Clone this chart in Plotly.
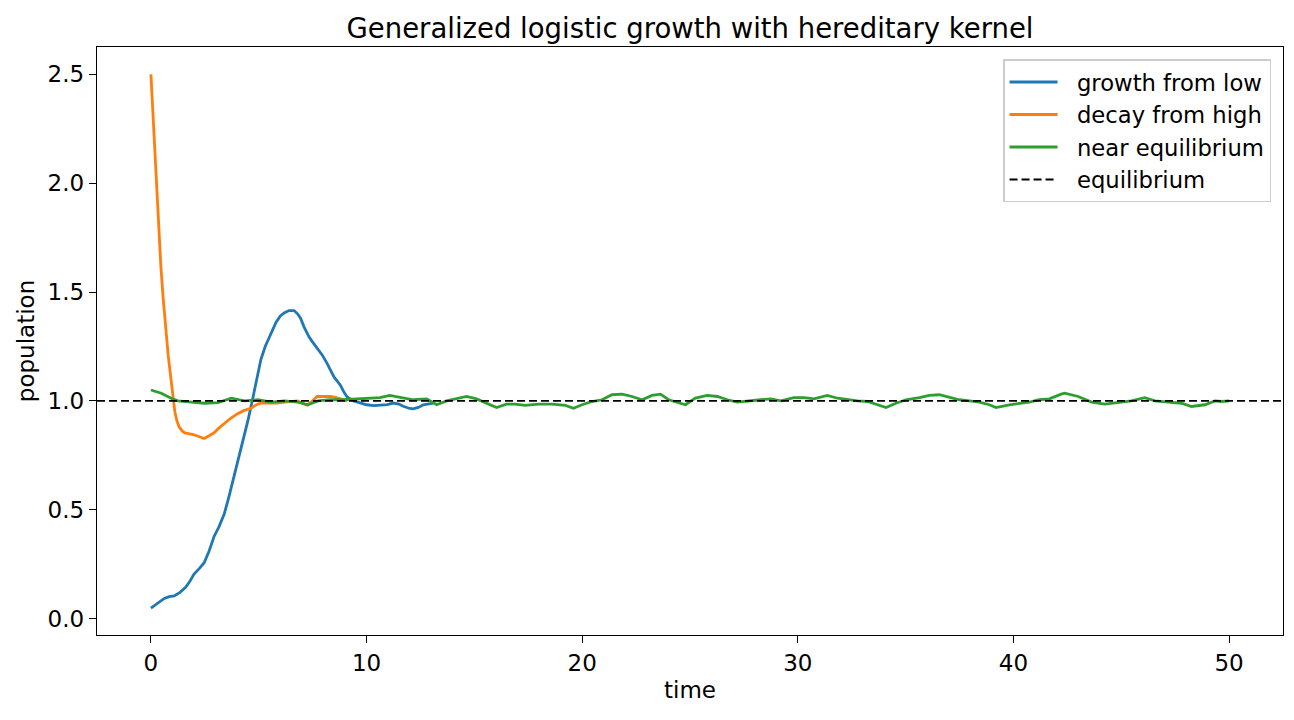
import plotly.graph_objects as go

# values
blue_t = [0, 0.3, 0.62, 0.85, 1.08, 1.35, 1.62, 1.8, 2.0, 2.25, 2.47, 2.7, 2.93, 3.15,
          3.4, 3.62, 3.86, 4.1, 4.32, 4.5, 4.7, 4.9, 5.1, 5.3, 5.56, 5.8, 6.0, 6.2,
          6.4, 6.64, 6.8, 6.94, 7.1, 7.33, 7.5, 7.72, 7.95, 8.18, 8.35, 8.49, 8.65,
          8.8, 8.95, 9.1, 9.4, 9.72, 10.0, 10.34, 10.62, 10.96, 11.24, 11.5, 11.7,
          12.0, 12.17, 12.4, 12.63, 12.96, 13.1]
blue_y = [0.048, 0.07, 0.092, 0.10, 0.104, 0.12, 0.144, 0.17, 0.204, 0.23, 0.256, 0.31,
          0.377, 0.42, 0.48, 0.56, 0.654, 0.74, 0.827, 0.91, 1.0, 1.10, 1.19, 1.25,
          1.31, 1.36, 1.39, 1.405, 1.415, 1.415, 1.40, 1.38, 1.34, 1.294, 1.27, 1.24,
          1.21, 1.17, 1.14, 1.11, 1.09, 1.07, 1.04, 1.018, 1.0, 0.99, 0.982, 0.978,
          0.98, 0.983, 0.99, 0.985, 0.975, 0.965, 0.963, 0.97, 0.982, 0.99, 0.99]

orange_t = [0, 0.08, 0.15, 0.22, 0.28, 0.37, 0.46, 0.57, 0.69, 0.8, 0.93, 1.02, 1.11,
            1.2, 1.31, 1.45, 1.57, 1.8, 2.0, 2.25, 2.47, 2.7, 2.93, 3.15, 3.4, 3.7,
            4.0, 4.3, 4.63, 4.85, 5.1, 5.5, 5.86, 6.3, 6.8, 7.0, 7.25, 7.5, 7.7, 8.0,
            8.33, 8.6, 8.8, 9.1]
orange_y = [2.5, 2.34, 2.19, 2.05, 1.93, 1.77, 1.62, 1.47, 1.33, 1.21, 1.10, 1.02, 0.95,
            0.91, 0.88, 0.862, 0.853, 0.848, 0.844, 0.835, 0.827, 0.84, 0.853, 0.875,
            0.896, 0.92, 0.94, 0.955, 0.965, 0.98, 0.99, 0.99, 0.99, 0.995, 1.0, 0.99,
            0.98, 1.0, 1.02, 1.02, 1.02, 1.015, 1.01, 1.0]

green_t = [0, 0.48, 0.94, 1.25, 1.87, 2.49, 3.11, 3.73, 4.34, 4.96, 5.58, 6.2, 6.82,
           7.28, 7.75, 8.3, 8.92, 9.54, 10.16, 10.62, 11.08, 11.55, 12.17, 12.79,
           13.25, 13.71, 14.33, 14.64, 15.1, 15.57, 16.03, 16.49, 16.88, 17.36, 17.98,
           18.6, 19.22, 19.6, 19.99, 20.45, 20.92, 21.38, 21.85, 22.31, 22.78, 23.24,
           23.63, 24.01, 24.48, 24.79, 25.25, 25.8, 26.27, 26.73, 27.19, 27.66, 28.28,
           28.74, 29.21, 29.82, 30.29, 30.75, 31.37, 31.84, 32.3, 32.76, 33.23, 33.7,
           34.09, 34.55, 35.02, 35.64, 36.1, 36.56, 37.03, 37.49, 37.96, 38.42, 38.88,
           39.19, 39.81, 40.27, 40.74, 41.2, 41.67, 42.21, 42.38, 43.0, 43.62, 44.24,
           44.85, 45.47, 46.09, 46.56, 47.18, 47.79, 48.26, 48.88, 49.34, 49.65, 50.0]
green_y = [1.05, 1.035, 1.012, 1.0, 0.994, 0.989, 0.992, 1.012, 1.0, 1.005, 0.994, 1.0,
           0.994, 0.982, 1.0, 1.006, 1.005, 1.009, 1.012, 1.015, 1.025, 1.015, 1.005,
           1.009, 0.982, 1.0, 1.012, 1.02, 1.009, 0.989, 0.969, 0.985, 0.985, 0.979,
           0.985, 0.985, 0.979, 0.966, 0.982, 0.997, 1.005, 1.028, 1.031, 1.02, 1.005,
           1.025, 1.031, 1.005, 0.989, 0.982, 1.013, 1.025, 1.02, 1.005, 0.994, 1.0,
           1.005, 1.009, 1.0, 1.015, 1.015, 1.009, 1.025, 1.012, 1.005, 1.0, 0.997,
           0.982, 0.969, 0.989, 1.005, 1.015, 1.025, 1.028, 1.015, 1.005, 1.0, 0.994,
           0.982, 0.969, 0.982, 0.989, 0.994, 1.005, 1.009, 1.031, 1.035, 1.02, 0.994,
           0.985, 0.994, 1.0, 1.015, 1.0, 0.994, 0.989, 0.974, 0.982, 1.0, 0.997, 1.0]

equilibrium = 1.0
x_range = [-2.5, 52.5]
y_range = [-0.076, 2.626]
x_ticks = [0, 10, 20, 30, 40, 50]
y_ticks = [0.0, 0.5, 1.0, 1.5, 2.0, 2.5]

font = "DejaVu Sans"
pad = "\u00a0\u00a0"  # gap between legend line sample and label

fig = go.Figure()
fig.add_trace(go.Scatter(x=blue_t, y=blue_y, mode="lines", name=pad + "growth from low",
                         legendgroup="a", line=dict(color="#1f77b4", width=2.8)))
fig.add_trace(go.Scatter(x=orange_t, y=orange_y, mode="lines", name=pad + "decay from high",
                         legendgroup="b", line=dict(color="#ff7f0e", width=2.8)))
fig.add_trace(go.Scatter(x=green_t, y=green_y, mode="lines", name=pad + "near equilibrium",
                         legendgroup="c", line=dict(color="#2ca02c", width=2.8)))
fig.add_trace(go.Scatter(x=x_range, y=[equilibrium, equilibrium], mode="lines",
                         name=pad + "equilibrium", legendgroup="d",
                         line=dict(color="black", width=1.9, dash="8px,4px")))

axis_style = dict(showline=True, linecolor="black", linewidth=1.4, mirror=True,
                  ticks="outside", ticklen=7, tickwidth=1.4, tickcolor="black",
                  showgrid=False, zeroline=False,
                  tickfont=dict(family=font, size=23, color="black"))

# page body adds an 8px offset, so the figure is sized to fit the 1294x720 window
fig.update_layout(
    width=1286, height=712,
    margin=dict(l=89, r=11, t=39, b=85),
    paper_bgcolor="white", plot_bgcolor="white",
    font=dict(family=font, color="black"),
    title=dict(text="Generalized logistic growth with hereditary kernel",
               xref="paper", x=0.5, xanchor="center", y=0.971, yanchor="middle",
               font=dict(family=font, size=27.5, color="black")),
    xaxis=dict(range=x_range, tickvals=x_ticks, ticktext=[str(v) for v in x_ticks],
               title=dict(text="time", font=dict(family=font, size=23), standoff=7),
               **axis_style),
    yaxis=dict(range=y_range, tickvals=y_ticks, ticktext=[f"{v:.1f}" for v in y_ticks],
               title=dict(text="population", font=dict(family=font, size=23), standoff=6),
               **axis_style),
    legend=dict(x=0.99, xanchor="right", y=0.979, yanchor="top",
                traceorder="grouped", tracegroupgap=0, itemwidth=48,
                bgcolor="white", bordercolor="#cccccc", borderwidth=1.4,
                font=dict(family=font, size=22.7, color="black")),
)

fig.write_html("out.html")
